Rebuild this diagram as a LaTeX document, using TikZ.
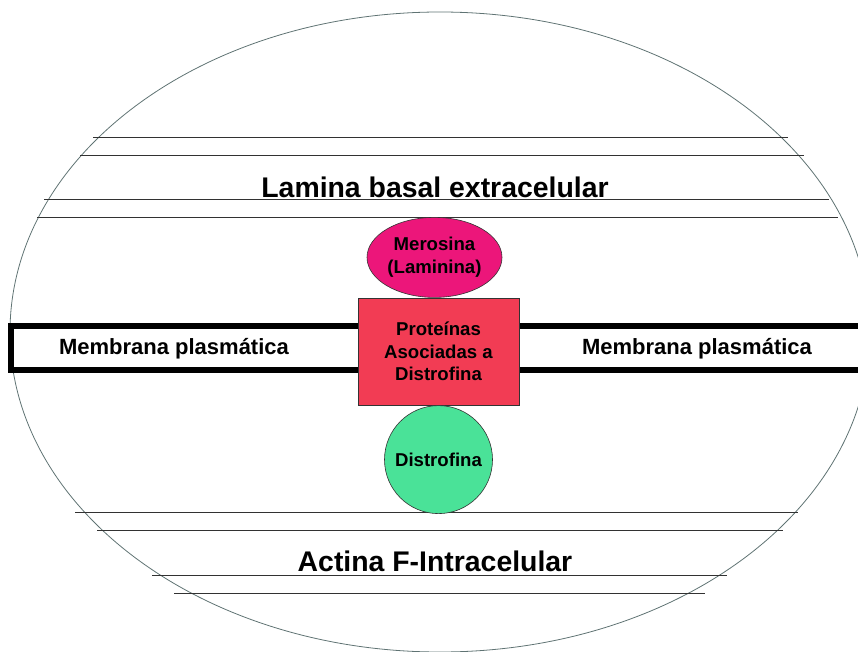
\documentclass[tikz,border=0pt]{standalone}
\usepackage{fontspec}
\setmainfont{Liberation Sans}
\usetikzlibrary{shapes.geometric, positioning}
\definecolor{merosinapink}{RGB}{236, 22, 122}
\definecolor{dapred}{RGB}{242, 60, 84}
\definecolor{distrogreen}{RGB}{74, 226, 152}
\definecolor{layergray}{RGB}{50, 50, 50}
\definecolor{cellgray}{RGB}{95, 115, 115}

\begin{document}
\begin{tikzpicture}[x=1pt, y=-1pt,
  layer/.style={draw=layergray, line width=1pt},
  bigtext/.style={font=\fontsize{28.4}{32}\selectfont\bfseries},
  memtext/.style={font=\fontsize{22}{26}\selectfont\bfseries},
  prottext/.style={font=\fontsize{18.6}{22.5}\selectfont\bfseries, align=center, draw=black!80, line width=0.6pt, inner sep=0pt}]
  \useasboundingbox (0,0) rectangle (858,652);

  % Cell outline
  \draw[cellgray, line width=0.8pt] (440,332) ellipse [x radius=430, y radius=320];

  % Extracellular basal lamina
  \draw[layer] (93,138) -- (788,138);
  \draw[layer] (80,156) -- (804,156);
  \draw[layer] (44,200) -- (829,200);
  \draw[layer] (37,218) -- (838,218);
  \node[bigtext] (lamina) at (435,187) {Lamina basal extracelular};

  % Intracellular actin
  \draw[layer] (75,512) -- (798,512);
  \draw[layer] (97,530) -- (783,530);
  \draw[layer] (152,575) -- (727,575);
  \draw[layer] (174,593) -- (705,593);
  \node[bigtext] (actina) at (435,561) {Actina F-Intracelular};

  % Plasma membrane
  \draw[line width=6pt] (11,326) rectangle (880,370);
  \node[memtext] (memleft) at (174,349) {Membrana plasmática};
  \node[memtext] (memright) at (697,349) {Membrana plasmática};

  % Dystrophin complex
  \node[prottext, rectangle, fill=dapred, minimum width=161pt, minimum height=107pt] (dap) at (438.5,351.5) {Proteínas\\Asociadas a\\Distrofina};
  \node[prottext, ellipse, fill=merosinapink, minimum width=135pt, minimum height=80pt, above=0pt of dap, xshift=-4pt] (merosina) {Merosina\\(Laminina)};
  \node[prottext, circle, fill=distrogreen, minimum size=108pt, below=0pt of dap] (distrofina) {Distrofina};
\end{tikzpicture}
\end{document}
